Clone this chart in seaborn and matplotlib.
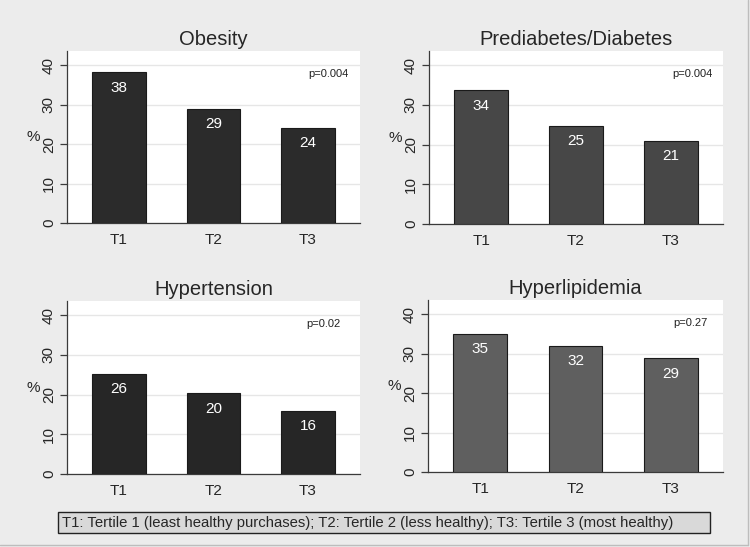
import matplotlib
matplotlib.use("Agg")
import matplotlib.pyplot as plt
from matplotlib.patches import Rectangle
from matplotlib.lines import Line2D
import seaborn as sns

# data
tertiles = ["T1", "T2", "T3"]
titles = ["Obesity", "Prediabetes/Diabetes", "Hypertension", "Hyperlipidemia"]
obesity = [38.2, 29.0, 24.1]
diabetes = [33.7, 24.7, 20.9]
hypertension = [25.3, 20.3, 15.9]
hyperlipidemia = [35.0, 31.9, 28.8]
bar_labels = [["38", "29", "24"], ["34", "25", "21"], ["26", "20", "16"], ["35", "32", "29"]]
p_values = ["p=0.004", "p=0.004", "p=0.02", "p=0.27"]
footnote = "T1: Tertile 1 (least healthy purchases); T2: Tertile 2 (less healthy); T3: Tertile 3 (most healthy)"

series = [obesity, diabetes, hypertension, hyperlipidemia]
colors = ["#2b2b2b", "#474747", "#262626", "#5f5f5f"]

sns.set_style("white")
plt.rcParams["font.family"] = ["Liberation Sans", "DejaVu Sans"]

W, H = 750, 547
fig = plt.figure(figsize=(W / 100, H / 100), dpi=100, facecolor="#ececec")

# panel boxes in pixels: left, top, right, bottom
boxes = [(67, 51, 360, 223), (429, 51, 723, 224), (67, 301, 360, 474), (428, 300, 723, 472)]
p_x = [0.96, 0.963, 0.934, 0.946]

for i in range(4):
    l, t, r, b = boxes[i]
    ax = fig.add_axes([l / W, (H - b) / H, (r - l) / W, (b - t) / H])
    ax.set_facecolor("white")
    sns.barplot(x=tertiles, y=series[i], color=colors[i], saturation=1,
                width=0.565, edgecolor="#1a1a1a", linewidth=0.8, ax=ax, zorder=3)
    ax.set_ylim(0, 43.6)
    ax.set_xlim(-0.55, 2.55)
    ax.set_yticks([0, 10, 20, 30, 40])
    ax.yaxis.grid(True, color="#e6e6e6", linewidth=1, zorder=0)
    ax.set_axisbelow(True)
    for s in ["top", "right"]:
        ax.spines[s].set_visible(False)
    for s in ["left", "bottom"]:
        ax.spines[s].set_color("#3a3a3a")
        ax.spines[s].set_linewidth(0.9)
    ax.tick_params(axis="y", left=True, length=5, width=0.9, color="#3a3a3a",
                   labelsize=11, labelrotation=90, pad=3)
    for lab in ax.get_yticklabels():
        lab.set_va("center")
    ax.tick_params(axis="x", length=0, labelsize=11, pad=7)
    ax.set_xlabel("")
    ax.set_ylabel("%", rotation=0, fontsize=11, labelpad=6, va="center")
    ax.set_title(titles[i], fontsize=14.5, pad=4)
    for j, v in enumerate(series[i]):
        ax.annotate(bar_labels[i][j], (j, v), xytext=(0, -11), textcoords="offset points",
                    ha="center", va="center", color="white", fontsize=11, zorder=4)
    ax.text(p_x[i], 0.866, p_values[i], transform=ax.transAxes, ha="right",
            va="center", fontsize=8, color="#222222")

# footnote box
fig.patches.append(Rectangle((58 / W, (H - 533) / H), (710 - 58) / W, 21 / H,
                             transform=fig.transFigure, facecolor="#d9d9d9",
                             edgecolor="#222222", linewidth=1))
fig.text(62 / W, (H - 522.5) / H, footnote, ha="left", va="center", fontsize=10.7)

# outer frame lines (bottom and right only)
fig.lines.append(Line2D([0, 748 / W], [2 / H, 2 / H], transform=fig.transFigure,
                        color="#bdbdbd", linewidth=1))
fig.lines.append(Line2D([748 / W, 748 / W], [2 / H, 1], transform=fig.transFigure,
                        color="#bdbdbd", linewidth=1))

fig.savefig("out.png", dpi=100, facecolor=fig.get_facecolor())
